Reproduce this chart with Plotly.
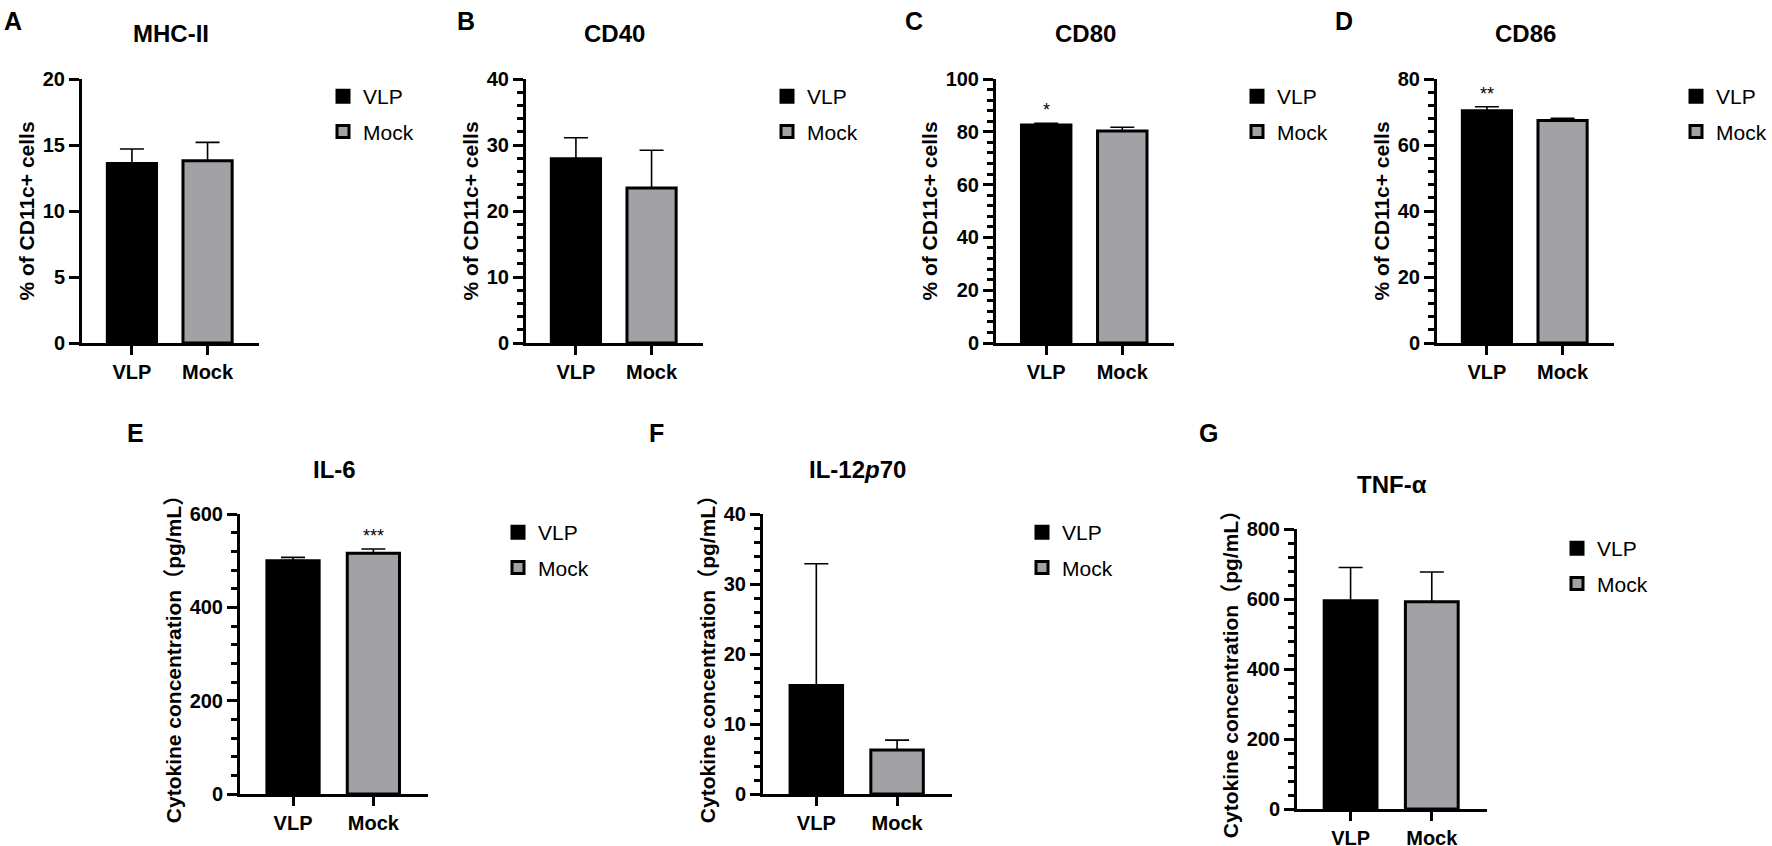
import plotly.graph_objects as go

W, H = 1772, 846

groups = ["VLP", "Mock"]

mhc_mean = [13.6, 13.8]
mhc_sd = [1.1, 1.4]
cd40_mean = [27.9, 23.5]
cd40_sd = [3.2, 5.7]
cd80_mean = [82.6, 80.3]
cd80_sd = [0.6, 1.4]
cd86_mean = [70.4, 67.4]
cd86_sd = [1.2, 0.7]
il6_mean = [500, 516]
il6_sd = [7, 9]
il12_mean = [15.5, 6.3]
il12_sd = [17.4, 1.4]
tnf_mean = [595, 592]
tnf_sd = [95, 85]

means = [mhc_mean, cd40_mean, cd80_mean, cd86_mean, il6_mean, il12_mean, tnf_mean]
sds = [mhc_sd, cd40_sd, cd80_sd, cd86_sd, il6_sd, il12_sd, tnf_sd]
titles = ["MHC-II", "CD40", "CD80", "CD86", "IL-6", "IL-12<i>p</i>70", "TNF-α"]
letters = ["A", "B", "C", "D", "E", "F", "G"]
stars = [["", ""], ["", ""], ["*", ""], ["**", ""], ["", "***"], ["", ""], ["", ""]]
y_max = [20, 40, 100, 80, 600, 40, 800]
y_step = [5, 10, 20, 20, 200, 10, 200]
y_minor = [None, 2, 4, 4, 40, 2, 40]
y_titles = ["% of CD11c+ cells"] * 4 + ["Cytokine concentration（pg/mL）"] * 3

# panel boxes in px: left, right, top, bottom
boxes = [(82, 259, 79, 343), (526, 703, 79, 343), (996, 1174, 79, 343),
         (1437, 1614, 79, 343), (240, 428, 514, 794), (763, 952, 514, 794),
         (1297, 1487, 529, 809)]
# legend text x and first row centre
legend_pos = [(363, 97), (807, 97), (1277, 97), (1716, 97),
              (538, 533), (1062, 533), (1597, 549)]
letter_pos = [(2, 5), (455, 5), (903, 5), (1333, 5), (125, 417), (647, 417), (1197, 417)]

colors = ["#000000", "#a1a1a6"]
FONT = "Liberation Sans, Arial, Noto Sans CJK SC, sans-serif"

fig = go.Figure()
layout = {}
annotations = []

for i in range(7):
    n = i + 1
    sfx = "" if n == 1 else str(n)
    lname = "legend" if n == 1 else "legend" + str(n)
    for j, g in enumerate(groups):
        fig.add_trace(go.Bar(
            x=[j], y=[means[i][j]], name=g,
            xaxis="x" + sfx, yaxis="y" + sfx,
            width=0.65,
            marker=dict(color=colors[j], line=dict(color="black", width=3)),
            error_y=dict(type="data", symmetric=False, array=[sds[i][j]], arrayminus=[0],
                         color="black", thickness=1.6, width=12),
            legend=lname, legendgroup=lname + g,
        ))
        if stars[i][j]:
            annotations.append(dict(
                x=j, y=means[i][j] + sds[i][j], xref="x" + sfx, yref="y" + sfx,
                text=stars[i][j], showarrow=False, yanchor="bottom", yshift=1,
                font=dict(size=18, color="black", family=FONT)))

    l, r, t, b = boxes[i]
    layout["xaxis" + sfx] = dict(
        domain=[l / W, r / W], anchor="y" + sfx, range=[-0.66, 1.68],
        tickvals=[0, 1], ticktext=groups, ticks="outside", ticklen=9, tickwidth=3,
        tickcolor="black", showline=True, linecolor="black", linewidth=3,
        showgrid=False, zeroline=False, fixedrange=True,
        tickfont=dict(size=20, family=FONT, color="black", weight="bold"))
    yax = dict(
        domain=[1 - b / H, 1 - t / H], anchor="x" + sfx, range=[0, y_max[i]],
        tick0=0, dtick=y_step[i], ticks="outside", ticklen=10, tickwidth=3,
        tickcolor="black", showline=True, linecolor="black", linewidth=3,
        showgrid=False, zeroline=False,
        tickfont=dict(size=20, family=FONT, color="black", weight="bold"),
        title=dict(text=y_titles[i], standoff=3,
                   font=dict(size=21, family=FONT, color="black", weight="bold")))
    if y_minor[i]:
        yax["minor"] = dict(tick0=0, dtick=y_minor[i], ticks="outside", ticklen=6,
                            tickwidth=2.5, tickcolor="black", showgrid=False)
    layout["yaxis" + sfx] = yax

    tx, ty = legend_pos[i]
    layout[lname] = dict(
        x=(tx - 40) / W, y=1 - (ty - 21) / H, xanchor="left", yanchor="top",
        bgcolor="rgba(0,0,0,0)", tracegroupgap=5,
        font=dict(size=21, family=FONT, color="black"))

    annotations.append(dict(
        x=0.5, y=1, xref="x" + sfx + " domain", yref="y" + sfx + " domain",
        text="<b>" + titles[i] + "</b>", showarrow=False, yanchor="middle", yshift=45,
        font=dict(size=24, family=FONT, color="black")))
    lx, ly = letter_pos[i]
    annotations.append(dict(
        x=lx / W, y=1 - ly / H, xref="paper", yref="paper", xanchor="left", yanchor="top",
        text="<b>" + letters[i] + "</b>", showarrow=False,
        font=dict(size=25, family=FONT, color="black")))

fig.update_layout(**layout)
fig.update_layout(
    width=W, height=H, margin=dict(l=0, r=0, t=0, b=0, autoexpand=False),
    paper_bgcolor="white", plot_bgcolor="white",
    barmode="overlay", showlegend=True, annotations=annotations,
    font=dict(family=FONT, color="black"),
)

# drop the page's default body margin so the 1772x846 figure fills the window
fig.write_html("out.html", config={"displayModeBar": False},
               post_script="document.body.style.margin='0';document.body.style.overflow='hidden';")
